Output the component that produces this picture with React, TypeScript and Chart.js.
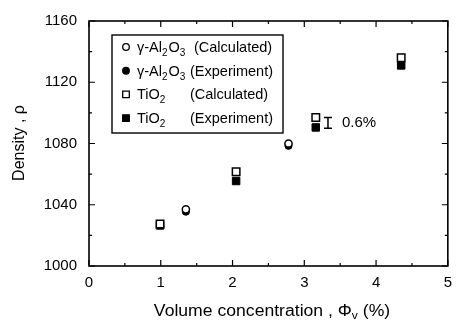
import React, { useEffect, useRef } from "react";
import { Chart, registerables } from "chart.js";

Chart.register(...registerables);

// ---- data ----
const alCalcX = [1.35, 2.78];
const alCalcY = [1037, 1080];
const alExpX = [1.35, 2.78];
const alExpY = [1035.5, 1078.5];
const tiCalcX = [0.99, 2.05, 3.16, 4.35];
const tiCalcY = [1027.5, 1061.5, 1097, 1136];
const tiExpX = [0.99, 2.05, 3.16, 4.35];
const tiExpY = [1026.5, 1055.5, 1090.5, 1131];
const xTickValues = [0, 1, 2, 3, 4, 5];
const yTickValues = [1000, 1040, 1080, 1120, 1160];
const xMinorTicks = [0.5, 1.5, 2.5, 3.5, 4.5];
const yMinorTicks = [1020, 1060, 1100, 1140];
const errBarX = 3.33;
const errBarRange = [1090, 1097];
const errBarLabel = "0.6%";
const xTitle = ["Volume concentration , Φ", "v", " (%)"];
const yTitle = "Density , ρ";
const legendRows = [
  { parts: [["γ-Al", 0], ["2", 1], ["O", 0], ["3", 1]], tag: "(Calculated)", style: "circle", filled: false },
  { parts: [["γ-Al", 0], ["2", 1], ["O", 0], ["3", 1]], tag: "(Experiment)", style: "circle", filled: true },
  { parts: [["TiO", 0], ["2", 1]], tag: "(Calculated)", style: "rect", filled: false },
  { parts: [["TiO", 0], ["2", 1]], tag: "(Experiment)", style: "rect", filled: true },
];

const FONT = "'Liberation Sans', Arial, sans-serif";

function toPts(xs: number[], ys: number[]) {
  return xs.map((x, i) => ({ x, y: ys[i] }));
}

const framePlugin = {
  id: "framePlugin",
  afterDraw(chart: any) {
    const { ctx, chartArea: a, scales } = chart;
    const xs = scales.x;
    const ys = scales.y;
    ctx.save();
    ctx.strokeStyle = "#000";
    ctx.lineWidth = 1.6;
    ctx.strokeRect(a.left, a.top, a.right - a.left, a.bottom - a.top);
    ctx.lineWidth = 1.2;
    const tick = (major: boolean) => (major ? 6 : 3);
    const xt = [...xTickValues.map((v) => [v, true]), ...xMinorTicks.map((v) => [v, false])] as [number, boolean][];
    xt.forEach(([v, m]) => {
      const px = xs.getPixelForValue(v);
      ctx.beginPath();
      ctx.moveTo(px, a.bottom);
      ctx.lineTo(px, a.bottom - tick(m));
      ctx.moveTo(px, a.top);
      ctx.lineTo(px, a.top + tick(m));
      ctx.stroke();
    });
    const yt = [...yTickValues.map((v) => [v, true]), ...yMinorTicks.map((v) => [v, false])] as [number, boolean][];
    yt.forEach(([v, m]) => {
      const py = ys.getPixelForValue(v);
      ctx.beginPath();
      ctx.moveTo(a.left, py);
      ctx.lineTo(a.left + tick(m), py);
      ctx.moveTo(a.right, py);
      ctx.lineTo(a.right - tick(m), py);
      ctx.stroke();
    });

    // error bar
    const ex = xs.getPixelForValue(errBarX);
    const e0 = ys.getPixelForValue(errBarRange[0]);
    const e1 = ys.getPixelForValue(errBarRange[1]);
    ctx.lineWidth = 1.5;
    ctx.beginPath();
    ctx.moveTo(ex, e0);
    ctx.lineTo(ex, e1);
    ctx.moveTo(ex - 4, e0);
    ctx.lineTo(ex + 4, e0);
    ctx.moveTo(ex - 4, e1);
    ctx.lineTo(ex + 4, e1);
    ctx.stroke();
    ctx.fillStyle = "#000";
    ctx.font = `15px ${FONT}`;
    ctx.textBaseline = "middle";
    ctx.textAlign = "left";
    ctx.fillText(errBarLabel, ex + 14, (e0 + e1) / 2);

    // legend
    const lx = 112, ly = 35, lw = 171, lh = 98;
    ctx.fillStyle = "#fff";
    ctx.fillRect(lx, ly, lw, lh);
    ctx.lineWidth = 1.4;
    ctx.strokeRect(lx, ly, lw, lh);
    legendRows.forEach((row, i) => {
      const cy = 47 + i * 23.7;
      const mx = 126;
      ctx.lineWidth = 1.3;
      ctx.strokeStyle = "#000";
      ctx.fillStyle = row.filled ? "#000" : "#fff";
      ctx.beginPath();
      if (row.style === "circle") ctx.arc(mx, cy, 3.3, 0, Math.PI * 2);
      else ctx.rect(mx - 3.3, cy - 3.3, 6.6, 6.6);
      ctx.fill();
      ctx.stroke();
      ctx.fillStyle = "#000";
      ctx.textBaseline = "alphabetic";
      let tx = 137;
      row.parts.forEach(([t, sub]) => {
        ctx.font = sub ? `10px ${FONT}` : `14.5px ${FONT}`;
        ctx.fillText(t as string, tx, cy + 5 + (sub ? 4 : 0));
        tx += ctx.measureText(t as string).width + (sub ? 1 : 0);
      });
      ctx.font = `14.5px ${FONT}`;
      const tagX = i === 0 ? 194 : 190;
      ctx.fillText(row.tag, tagX, cy + 5);
    });

    // axis titles
    ctx.save();
    ctx.translate(272, 316);
    ctx.scale(1.1, 1);
    ctx.font = `16px ${FONT}`;
    const w0 = ctx.measureText(xTitle[0]).width;
    ctx.font = `11px ${FONT}`;
    const w1 = ctx.measureText(xTitle[1]).width;
    ctx.font = `16px ${FONT}`;
    const w2 = ctx.measureText(xTitle[2]).width;
    let tx = -(w0 + w1 + w2) / 2;
    ctx.textAlign = "left";
    ctx.fillText(xTitle[0], tx, 0);
    tx += w0;
    ctx.font = `11px ${FONT}`;
    ctx.fillText(xTitle[1], tx, 3);
    tx += w1;
    ctx.font = `16px ${FONT}`;
    ctx.fillText(xTitle[2], tx, 0);
    ctx.restore();

    ctx.translate(24, 143);
    ctx.rotate(-Math.PI / 2);
    ctx.textAlign = "center";
    ctx.font = `16px ${FONT}`;
    ctx.fillText(yTitle, 0, 0);
    ctx.restore();
  },
};

export default function App() {
  const ref = useRef<HTMLCanvasElement>(null);
  useEffect(() => {
    document.body.style.margin = "0";
    const chart = new Chart(ref.current!, {
      type: "scatter",
      data: {
        datasets: [
          { data: toPts(tiCalcX, tiCalcY), pointStyle: "rect", pointRadius: 5.3, backgroundColor: "#fff", borderColor: "#000", borderWidth: 1.5 },
          { data: toPts(tiExpX, tiExpY), pointStyle: "rect", pointRadius: 5.3, backgroundColor: "#000", borderColor: "#000", borderWidth: 1 },
          { data: toPts(alCalcX, alCalcY), pointStyle: "circle", pointRadius: 3.6, backgroundColor: "#fff", borderColor: "#000", borderWidth: 1.5 },
          { data: toPts(alExpX, alExpY), pointStyle: "circle", pointRadius: 3.6, backgroundColor: "#000", borderColor: "#000", borderWidth: 1 },
        ],
      },
      options: {
        responsive: false,
        animation: false,
        layout: { padding: { top: 17, right: 6, left: 0, bottom: 0 } },
        plugins: { legend: { display: false }, tooltip: { enabled: false } },
        scales: {
          x: {
            type: "linear",
            min: 0,
            max: 5,
            afterFit: (s: any) => { s.height = 58; },
            afterBuildTicks: (s: any) => { s.ticks = xTickValues.map((v) => ({ value: v })); },
            grid: { display: false, drawTicks: false },
            border: { display: false },
            ticks: { color: "#000", font: { family: FONT, size: 15 }, padding: 8, callback: (v: any) => String(v) },
          },
          y: {
            type: "linear",
            min: 1000,
            max: 1160,
            afterFit: (s: any) => { s.width = 89; },
            afterBuildTicks: (s: any) => { s.ticks = yTickValues.map((v) => ({ value: v })); },
            grid: { display: false, drawTicks: false },
            border: { display: false },
            ticks: { color: "#000", font: { family: FONT, size: 15 }, padding: 12, callback: (v: any) => String(v) },
          },
        },
      },
      plugins: [framePlugin],
    });
    return () => chart.destroy();
  }, []);
  return <canvas ref={ref} width={460} height={324} style={{ display: "block" }} />;
}
